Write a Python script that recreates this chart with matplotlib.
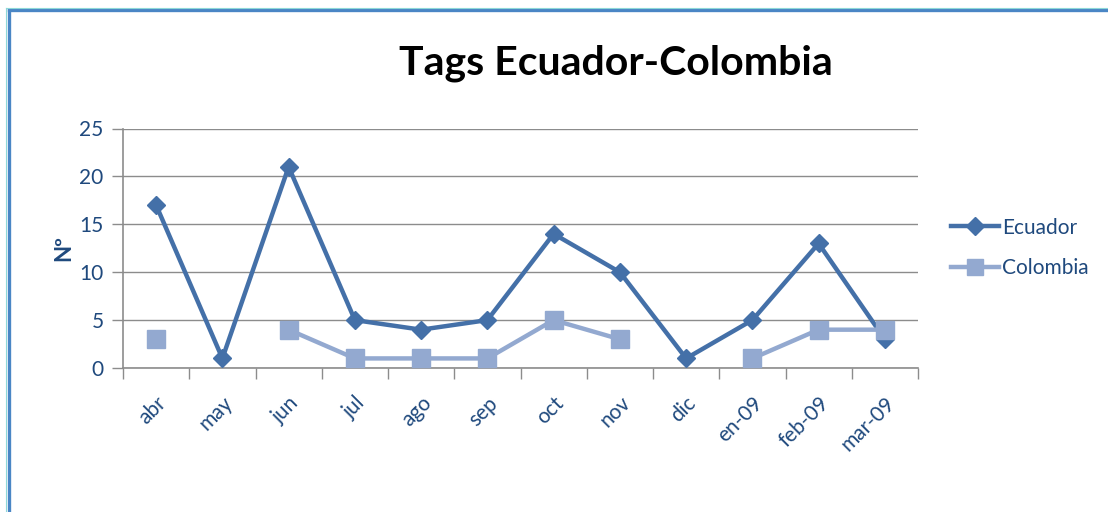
import numpy as np
import matplotlib
matplotlib.use("Agg")
import matplotlib.pyplot as plt
from matplotlib.lines import Line2D

categories = ["abr", "may", "jun", "jul", "ago", "sep", "oct", "nov", "dic", "en-09", "feb-09", "mar-09"]
ecuador = [17, 1, 21, 5, 4, 5, 14, 10, 1, 5, 13, 3]
colombia = [3, np.nan, 4, 1, 1, 1, 5, 3, np.nan, 1, 4, 4]
yticks = [0, 5, 10, 15, 20, 25]

plt.rcParams['font.family'] = ['Lato', 'DejaVu Sans']

c_ec = "#4470A8"
c_co = "#93A9D0"
c_txt = "#1F497D"
c_grid = "#8C8C8C"

fig = plt.figure(figsize=(11.08, 5.12), dpi=100)
ax = fig.add_axes([123/1108, 1 - 368/512, (918-123)/1108, (368-128.5)/512])

x = np.arange(len(categories))
ax.plot(x, ecuador, color=c_ec, lw=3.2, marker='D', ms=9.5, mfc=c_ec, mec=c_ec, zorder=3, label="Ecuador")
ax.plot(x, colombia, color=c_co, lw=3.2, marker='s', ms=13, mfc=c_co, mec=c_co, zorder=4, label="Colombia")

ax.set_xlim(-0.5, len(categories) - 0.5)
ax.set_ylim(0, 25)
ax.set_yticks(yticks)
ax.set_yticklabels([str(v) for v in yticks], color=c_txt, fontsize=15)
ax.yaxis.grid(True, color=c_grid, lw=1)
ax.set_axisbelow(True)

ax.set_xticks(x)
ax.set_xticklabels(categories, rotation=45, ha='right', rotation_mode='anchor', color=c_txt, fontsize=15)
ax.set_xticks(np.arange(-0.5, len(categories)), minor=True)
ax.tick_params(axis='x', which='major', length=0, pad=18)
ax.tick_params(axis='x', which='minor', length=8, color=c_grid, width=1)
ax.tick_params(axis='y', length=8, color=c_grid, width=1, pad=6)

for s in ['top', 'right']:
    ax.spines[s].set_visible(False)
for s in ['left', 'bottom']:
    ax.spines[s].set_color(c_grid)
    ax.spines[s].set_linewidth(1.2)

ax.set_ylabel("Nº", color=c_txt, fontsize=16, fontweight='bold', labelpad=4)

fig.text(616/1108, 1 - 63/512, "Tags Ecuador-Colombia", ha='center', va='center',
         fontsize=29.5, fontweight='bold', color='black')

handles = [Line2D([0], [0], color=c_ec, lw=3.2, marker='D', ms=9),
           Line2D([0], [0], color=c_co, lw=3.2, marker='s', ms=12)]
fig.legend(handles, ["Ecuador", "Colombia"], loc='center left',
           bbox_to_anchor=(932/1108, 1 - 248/512), frameon=False,
           fontsize=15, labelcolor=c_txt, handlelength=2.3, handletextpad=0.15,
           labelspacing=1.0)

# outer frame (left and top edges visible)
fig.add_artist(Line2D([8.5/1108, 8.5/1108], [0, 1 - 10/512], color="#4A86C5", lw=2.4, transform=fig.transFigure))
fig.add_artist(Line2D([8.5/1108, 1], [1 - 10/512, 1 - 10/512], color="#4A86C5", lw=2.4, transform=fig.transFigure))
fig.add_artist(Line2D([5.5/1108, 5.5/1108], [0, 1 - 8/512], color="#8ED8D8", lw=0.8, transform=fig.transFigure))
fig.add_artist(Line2D([5.5/1108, 1], [1 - 8/512, 1 - 8/512], color="#8ED8D8", lw=0.8, transform=fig.transFigure))

fig.savefig("out.png", dpi=100, facecolor='white')
